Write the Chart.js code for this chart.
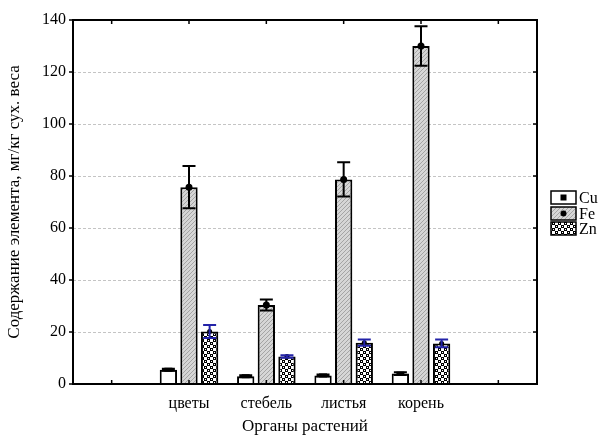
<!DOCTYPE html>
<html>
<head>
<meta charset="utf-8">
<script src="https://cdn.jsdelivr.net/npm/chart.js@4"></script>
<style>
  body { margin: 0; background: #fff; }
</style>
</head>
<body>
<canvas id="myChart" width="604" height="441"></canvas>
<script>
// categories (first and last are empty slots on the axis)
var organs = ["", "цветы", "стебель", "листья", "корень", ""];
var seriesNames = ["Cu", "Fe", "Zn"];

// mean values, mg/kg dry weight
var cuData = [null, 5.5, 3.0, 3.3, 4.0, null];
var feData = [null, 75.7, 30.4, 78.7, 130.0, null];
var znData = [null, 20.2, 10.6, 15.9, 15.6, null];

// +/- error
var cuErr = [null, 0.4, 0.4, 0.4, 0.5, null];
var feErr = [null, 8.1, 2.1, 6.6, 7.6, null];
var znErr = [null, 2.5, 0.5, 1.2, 1.5, null];

var yTicks = [0, 20, 40, 60, 80, 100, 120, 140];

var serif = "'Liberation Serif', 'DejaVu Serif', serif";

// fill patterns
function makeFePattern() {
    var c = document.createElement("canvas");
    c.width = 4; c.height = 4;
    var g = c.getContext("2d");
    g.fillStyle = "#d6d6d6";
    g.fillRect(0, 0, 4, 4);
    g.strokeStyle = "#a4a4a4";
    g.lineWidth = 1;
    g.beginPath();
    g.moveTo(0, 4); g.lineTo(4, 0);
    g.moveTo(-1, 1); g.lineTo(1, -1);
    g.moveTo(3, 5); g.lineTo(5, 3);
    g.stroke();
    return g.createPattern(c, "repeat");
}
function makeZnPattern() {
    var c = document.createElement("canvas");
    c.width = 6; c.height = 6;
    var g = c.getContext("2d");
    g.fillStyle = "#fff";
    g.fillRect(0, 0, 6, 6);
    g.fillStyle = "#000";
    g.fillRect(0, 0, 3, 3);
    g.fillRect(3, 3, 3, 3);
    g.fillStyle = "#fff";
    g.fillRect(1, 1, 1, 1);
    g.fillRect(4, 4, 1, 1);
    return g.createPattern(c, "repeat");
}
var fePattern = makeFePattern();
var znPattern = makeZnPattern();

var errColors = ["#000000", "#000000", "#2323a8"];
var errors = [cuErr, feErr, znErr];

var errorBars = {
    id: "errorBars",
    afterDatasetsDraw: function(chart) {
        var ctx = chart.ctx;
        var y = chart.scales.y;
        chart.data.datasets.forEach(function(ds, i) {
            var meta = chart.getDatasetMeta(i);
            meta.data.forEach(function(bar, j) {
                var v = ds.data[j];
                if (v === null) return;
                var e = errors[i][j];
                var x = bar.x;
                var yv = y.getPixelForValue(v);
                var yt = y.getPixelForValue(v + e);
                var yb = y.getPixelForValue(v - e);
                ctx.save();
                // marker
                ctx.fillStyle = "#000";
                if (i === 0) {
                    ctx.fillRect(x - 4, yv - 2, 8, 4);
                } else {
                    ctx.beginPath();
                    ctx.arc(x, yv, i === 1 ? 3.5 : 2.5, 0, Math.PI * 2);
                    ctx.fill();
                }
                ctx.strokeStyle = errColors[i];
                ctx.lineWidth = 2;
                ctx.beginPath();
                ctx.moveTo(x, yt); ctx.lineTo(x, yb);
                ctx.moveTo(x - 6.5, yt); ctx.lineTo(x + 6.5, yt);
                ctx.moveTo(x - 6.5, yb); ctx.lineTo(x + 6.5, yb);
                ctx.stroke();
                ctx.restore();
            });
        });
    }
};

var frame = {
    id: "frame",
    afterDraw: function(chart) {
        var ctx = chart.ctx;
        var a = chart.chartArea;
        var xs = chart.scales.x, ys = chart.scales.y;
        ctx.save();
        ctx.strokeStyle = "#000";
        ctx.lineWidth = 2;
        ctx.strokeRect(a.left, a.top, a.right - a.left, a.bottom - a.top);
        ctx.lineWidth = 1.5;
        ctx.beginPath();
        for (var i = 0; i < organs.length; i++) {
            var px = xs.getPixelForTick(i);
            ctx.moveTo(px, a.bottom); ctx.lineTo(px, a.bottom - 4);
            ctx.moveTo(px, a.top); ctx.lineTo(px, a.top + 4);
        }
        yTicks.forEach(function(t) {
            var py = ys.getPixelForValue(t);
            ctx.moveTo(a.left, py); ctx.lineTo(a.left - 4, py);
            ctx.moveTo(a.right, py); ctx.lineTo(a.right - 4, py);
        });
        ctx.stroke();

        // legend
        var fills = ["#ffffff", fePattern, znPattern];
        var bx = 551, bw = 25, bh = 13;
        var tops = [191, 207, 222];
        ctx.font = "16px " + serif;
        ctx.textBaseline = "middle";
        for (var k = 0; k < 3; k++) {
            ctx.fillStyle = fills[k];
            ctx.fillRect(bx, tops[k], bw, bh);
            ctx.lineWidth = 1.5;
            ctx.strokeStyle = "#000";
            ctx.strokeRect(bx, tops[k], bw, bh);
            ctx.fillStyle = "#000";
            var cx = bx + bw / 2, cy = tops[k] + bh / 2;
            if (k === 0) ctx.fillRect(cx - 3, cy - 3, 6, 6);
            if (k === 1) { ctx.beginPath(); ctx.arc(cx, cy, 3, 0, Math.PI * 2); ctx.fill(); }
            ctx.fillText(seriesNames[k], bx + bw + 3, cy + 1);
        }
        ctx.restore();
    }
};

var ctx = document.getElementById("myChart");
var myChart = new Chart(ctx, {
    type: "bar",
    data: {
        labels: organs,
        datasets: [
            { label: seriesNames[0], data: cuData, backgroundColor: "#ffffff", borderColor: "#000", borderWidth: 2 },
            { label: seriesNames[1], data: feData, backgroundColor: fePattern, borderColor: "#000", borderWidth: 2 },
            { label: seriesNames[2], data: znData, backgroundColor: znPattern, borderColor: "#000", borderWidth: 2 }
        ]
    },
    options: {
        responsive: false,
        devicePixelRatio: 1,
        animation: false,
        categoryPercentage: 0.8,
        barPercentage: 0.84,
        layout: { padding: { left: 0, right: 67, top: 20, bottom: 0 } },
        plugins: {
            legend: { display: false },
            tooltip: { enabled: false }
        },
        scales: {
            x: {
                grid: { display: false, drawTicks: false },
                border: { display: false },
                ticks: { color: "#000", font: { family: serif, size: 16 }, padding: 10, maxRotation: 0, autoSkip: false },
                title: { display: true, text: "Органы растений", color: "#000", font: { family: serif, size: 17 }, padding: { top: 14 } },
                afterFit: function(s) { s.height = 57; }
            },
            y: {
                min: 0,
                max: 140,
                afterBuildTicks: function(s) { s.ticks = yTicks.map(function(v) { return { value: v }; }); },
                grid: {
                    drawTicks: false,
                    color: function(c) { return (c.tick && (c.tick.value === 0 || c.tick.value === 140)) ? "rgba(0,0,0,0)" : "#c4c4c4"; },
                    lineWidth: 1
                },
                border: { display: false, dash: [3, 2] },
                ticks: { color: "#000", font: { family: serif, size: 16 }, padding: 7 },
                title: { display: true, text: "Содержание элемента, мг/кг сух. веса", color: "#000", font: { family: serif, size: 17 }, padding: { bottom: 3 } },
                afterFit: function(s) { s.width = 73; }
            }
        }
    },
    plugins: [errorBars, frame]
});
</script>
</body>
</html>
